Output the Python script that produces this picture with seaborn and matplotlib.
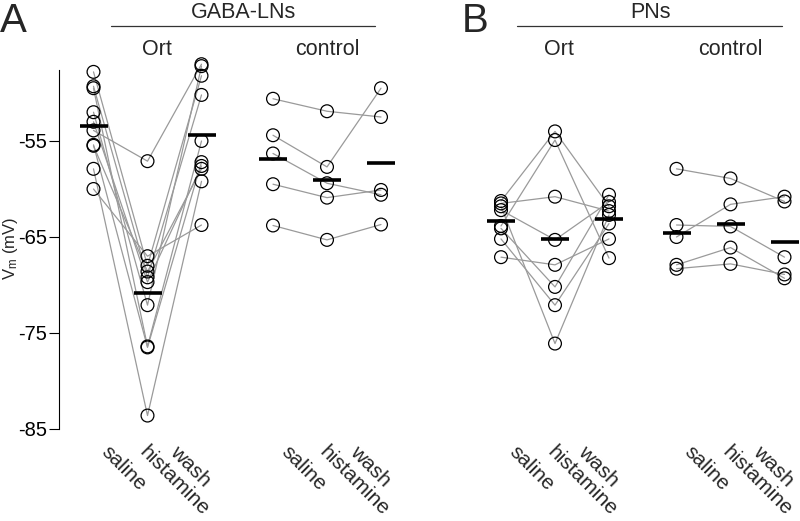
import numpy as np
import pandas as pd
import matplotlib
matplotlib.use("Agg")
import matplotlib.pyplot as plt
import seaborn as sns

# ---------------- data (membrane potential, mV) ----------------
conditions = ["saline", "histamine", "wash"]
groups = ["GABA-LNs Ort", "GABA-LNs control", "PNs Ort", "PNs control"]

gaba_ort_saline = [-47.8, -49.3, -49.5, -52.0, -53.0, -53.9, -55.4, -55.5, -57.9, -60.0]
gaba_ort_histamine = [-68.0, -69.2, -76.4, -72.1, -69.7, -57.1, -76.5, -68.6, -83.6, -67.0]
gaba_ort_wash = [-48.2, -50.2, -55.0, -47.2, -57.6, -47.0, -57.2, -57.9, -59.2, -63.75]

gaba_ctrl_saline = [-50.6, -54.4, -56.3, -59.5, -63.8]
gaba_ctrl_histamine = [-51.9, -57.7, -59.4, -60.9, -65.3]
gaba_ctrl_wash = [-52.5, -49.5, -60.6, -60.1, -63.7]

pn_ort_saline = [-61.25, -61.5, -61.8, -62.2, -63.85, -64.1, -65.2, -67.1]
pn_ort_histamine = [-54.0, -60.8, -76.1, -65.3, -54.9, -70.2, -72.1, -67.9]
pn_ort_wash = [-61.8, -62.3, -62.7, -61.35, -67.2, -60.6, -63.6, -65.2]

pn_ctrl_saline = [-57.9, -63.75, -65.0, -67.9, -68.3]
pn_ctrl_histamine = [-58.9, -63.9, -61.6, -66.1, -67.8]
pn_ctrl_wash = [-61.3, -67.1, -60.8, -69.3, -68.9]

y_ticks = [-55, -65, -75, -85]

series = {
    "GABA-LNs Ort": (gaba_ort_saline, gaba_ort_histamine, gaba_ort_wash),
    "GABA-LNs control": (gaba_ctrl_saline, gaba_ctrl_histamine, gaba_ctrl_wash),
    "PNs Ort": (pn_ort_saline, pn_ort_histamine, pn_ort_wash),
    "PNs control": (pn_ctrl_saline, pn_ctrl_histamine, pn_ctrl_wash),
}

# ---------------- layout (x axis in pixel-like units) ----------------
group_center = {"GABA-LNs Ort": 147.5, "GABA-LNs control": 327.0,
                "PNs Ort": 555.0, "PNs control": 730.5}
step = 54.0
cond_offset = {c: (i - 1) * step for i, c in enumerate(conditions)}

rows = []
for g in groups:
    for ci, cond in enumerate(conditions):
        for cell, v in enumerate(series[g][ci]):
            rows.append(dict(group=g, cell=f"{g}-{cell}", condition=cond, vm=v,
                             x=group_center[g] + cond_offset[cond]))
df = pd.DataFrame(rows)

# ---------------- style ----------------
sns.set_style("white")
plt.rcParams["font.family"] = ["Liberation Sans", "DejaVu Sans"]
plt.rcParams["mathtext.fontset"] = "custom"
plt.rcParams["mathtext.rm"] = "Liberation Sans"
plt.rcParams["mathtext.it"] = "Liberation Sans"
plt.rcParams["axes.unicode_minus"] = False

W, H = 800, 521
fig = plt.figure(figsize=(W / 100, H / 100), dpi=100)
ax_left, ax_right, ax_top, ax_bot = 59, 800, 55, 440
ax = fig.add_axes([ax_left / W, (H - ax_bot) / H, (ax_right - ax_left) / W, (ax_bot - ax_top) / H])

px_per_mv = 9.6
y_top = -55 + (141 - ax_top) / px_per_mv
y_bot = -55 - (ax_bot - 141) / px_per_mv

sns.lineplot(data=df, x="x", y="vm", units="cell", estimator=None, sort=False,
             color="#9a9a9a", linewidth=0.9, ax=ax, zorder=1, legend=False)
sns.scatterplot(data=df, x="x", y="vm", s=85, fc="none", ec="black",
                linewidth=0.9, ax=ax, zorder=3, legend=False)

means = df.groupby(["group", "condition"], sort=False).agg(vm=("vm", "mean"), x=("x", "first")).reset_index()
ax.hlines(means["vm"], means["x"] - 14, means["x"] + 14, colors="black", linewidth=2.6, zorder=4)

ax.set_xlim(ax_left, ax_right)
ax.set_ylim(y_bot, y_top)
ax.set_xticks([])
ax.set_xlabel("")
ax.set_yticks(y_ticks)
ax.set_yticklabels([str(t) for t in y_ticks])
ax.tick_params(axis="y", length=7, width=0.8, pad=1.5, labelsize=14.5, direction="out",
               left=True, colors="black")
sns.despine(ax=ax, bottom=True)
ax.spines["left"].set_bounds(-85, -47.6)
ax.spines["left"].set_linewidth(0.8)
ax.spines["left"].set_color("black")

ax.set_ylabel(r"V$_{\mathrm{m}}$ (mV)", fontsize=12)
ax.yaxis.set_label_coords((20 - ax_left) / (ax_right - ax_left), (ax_bot - 248) / (ax_bot - ax_top))

# rotated condition labels
label_off = {"saline": 7, "histamine": -9, "wash": -32}
ytr = ax.get_xaxis_transform()
for g in groups:
    for cond in conditions:
        xx = group_center[g] + cond_offset[cond] + label_off[cond]
        ax.text(xx, (ax_bot - 453) / (ax_bot - ax_top), cond, transform=ytr, rotation=-45,
                rotation_mode="anchor", ha="left", va="baseline", fontsize=15, clip_on=False)

# headers
def ftext(x, y, s, **kw):
    fig.text(x / W, 1 - y / H, s, **kw)

ftext(0, 32, "A", fontsize=29, ha="left", va="baseline")
ftext(462, 32, "B", fontsize=29, ha="left", va="baseline")
ftext(243, 18.5, "GABA-LNs", fontsize=15.5, ha="center", va="baseline")
ftext(650, 18.5, "PNs", fontsize=15.5, ha="center", va="baseline")
for name, xc in [("Ort", 157), ("control", 327), ("Ort", 559), ("control", 730)]:
    ftext(xc, 55, name, fontsize=15.5, ha="center", va="baseline")
for x0, x1 in [(111, 375), (517, 782)]:
    fig.add_artist(plt.Line2D([x0 / W, x1 / W], [1 - 25.5 / H, 1 - 25.5 / H],
                              transform=fig.transFigure, color="#333333", linewidth=0.9))

fig.savefig("out.png", dpi=100)
